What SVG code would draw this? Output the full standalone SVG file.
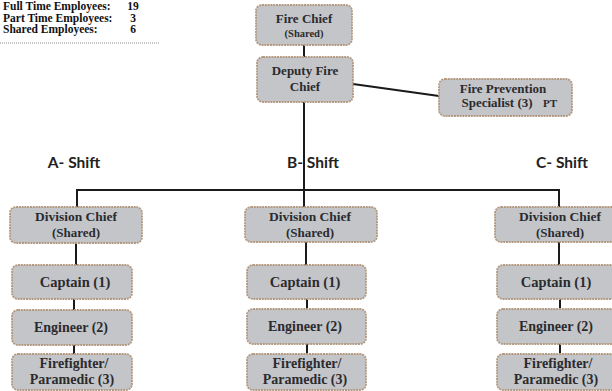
<svg xmlns="http://www.w3.org/2000/svg" width="612" height="391" viewBox="0 0 612 391">
<style>
.box{fill:#c4c5c9;stroke:#b39a82;stroke-width:1.8;stroke-dasharray:2 0.8}
.t{font-family:"Liberation Serif","Times New Roman",serif;font-weight:bold;fill:#2b2b2e;text-anchor:middle}
.s{font-family:Lato,"Liberation Sans",Arial,sans-serif;font-weight:bold;font-size:15.5px;fill:#222;text-anchor:middle}
.info{font-family:"Liberation Serif","Times New Roman",serif;font-weight:bold;font-size:11.5px;fill:#111}
.ln{stroke:#1a1a1a;stroke-width:2;fill:none}
</style>
<rect width="612" height="391" fill="#ffffff"/>
<g id="summary">
<text class="info" x="3" y="10">Full Time Employees:</text>
<text class="info" x="133" y="10" text-anchor="middle">19</text>
<text class="info" x="3" y="21.5">Part Time Employees:</text>
<text class="info" x="133" y="21.5" text-anchor="middle">3</text>
<text class="info" x="3" y="33">Shared Employees:</text>
<text class="info" x="133" y="33" text-anchor="middle">6</text>
<line x1="0" y1="43" x2="160" y2="43" stroke="#888" stroke-width="1.2" stroke-dasharray="1 1"/>
</g>
<g id="connectors">
<line class="ln" x1="304" y1="45" x2="304" y2="57"/>
<line class="ln" x1="304" y1="102" x2="304" y2="207"/>
<line class="ln" x1="353" y1="84" x2="439" y2="96"/>
<polyline class="ln" points="77,207 77,190 559,190 559,207"/>
<line class="ln" x1="76" y1="243" x2="76" y2="265"/>
<line class="ln" x1="74" y1="299" x2="74" y2="310"/>
<line class="ln" x1="74" y1="345" x2="74" y2="354"/>
<line class="ln" x1="306" y1="242" x2="306" y2="265"/>
<line class="ln" x1="307" y1="299" x2="307" y2="309"/>
<line class="ln" x1="307" y1="344" x2="307" y2="354"/>
<line class="ln" x1="559" y1="242" x2="559" y2="265"/>
<line class="ln" x1="560" y1="299" x2="560" y2="309"/>
<line class="ln" x1="560" y1="344" x2="560" y2="354"/>
</g>
<g id="fire-chief">
<rect class="box" x="256" y="5" width="96" height="40" rx="6"/>
<text class="t" x="304" y="23" font-size="13">Fire Chief</text>
<text class="t" x="304" y="37" font-size="10.5">(Shared)</text>
</g>
<g id="deputy-fire-chief">
<rect class="box" x="257" y="57" width="96" height="45" rx="6"/>
<text class="t" x="305" y="75" font-size="13">Deputy Fire</text>
<text class="t" x="305" y="91" font-size="13">Chief</text>
</g>
<g id="fire-prevention">
<rect class="box" x="439" y="79" width="133" height="37" rx="6"/>
<text class="t" x="503" y="93" font-size="13">Fire Prevention</text>
<text class="t" x="497" y="107" font-size="13">Specialist (3)</text>
<text class="t" x="550" y="107" font-size="11">PT</text>
</g>
<g id="shift-labels">
<text class="s" x="74" y="168">A- Shift</text>
<text class="s" x="313" y="168">B- Shift</text>
<text class="s" x="562" y="168">C- Shift</text>
</g>
<g id="a-division-chief">
<rect class="box" x="10" y="207" width="132" height="36" rx="6"/>
<text class="t" x="76" y="221" font-size="13.5">Division Chief</text>
<text class="t" x="76" y="237" font-size="13">(Shared)</text>
</g>
<g id="a-captain">
<rect class="box" x="12" y="265" width="120" height="34" rx="6"/>
<text class="t" x="75" y="287" font-size="14.5">Captain (1)</text>
</g>
<g id="a-engineer">
<rect class="box" x="12" y="310" width="120" height="35" rx="6"/>
<text class="t" x="71" y="332" font-size="14">Engineer (2)</text>
</g>
<g id="a-firefighter">
<rect class="box" x="12" y="354" width="120" height="36" rx="6"/>
<text class="t" x="74" y="368" font-size="14">Firefighter/</text>
<text class="t" x="72" y="384" font-size="14">Paramedic (3)</text>
</g>
<g id="b-division-chief">
<rect class="box" x="245" y="207" width="132" height="35" rx="6"/>
<text class="t" x="310" y="221" font-size="13.5">Division Chief</text>
<text class="t" x="310" y="237" font-size="13">(Shared)</text>
</g>
<g id="b-captain">
<rect class="box" x="247" y="265" width="119" height="34" rx="6"/>
<text class="t" x="305" y="287" font-size="14.5">Captain (1)</text>
</g>
<g id="b-engineer">
<rect class="box" x="247" y="309" width="119" height="35" rx="6"/>
<text class="t" x="305" y="331" font-size="14">Engineer (2)</text>
</g>
<g id="b-firefighter">
<rect class="box" x="247" y="354" width="119" height="36" rx="6"/>
<text class="t" x="307" y="368" font-size="14">Firefighter/</text>
<text class="t" x="305" y="384" font-size="14">Paramedic (3)</text>
</g>
<g id="c-division-chief">
<rect class="box" x="495" y="207" width="132" height="35" rx="6"/>
<text class="t" x="560" y="221" font-size="13.5">Division Chief</text>
<text class="t" x="560" y="237" font-size="13">(Shared)</text>
</g>
<g id="c-captain">
<rect class="box" x="497" y="265" width="120" height="34" rx="6"/>
<text class="t" x="556" y="287" font-size="14.5">Captain (1)</text>
</g>
<g id="c-engineer">
<rect class="box" x="497" y="309" width="120" height="35" rx="6"/>
<text class="t" x="556" y="331" font-size="14">Engineer (2)</text>
</g>
<g id="c-firefighter">
<rect class="box" x="497" y="354" width="120" height="36" rx="6"/>
<text class="t" x="558" y="368" font-size="14">Firefighter/</text>
<text class="t" x="556" y="384" font-size="14">Paramedic (3)</text>
</g>
</svg>
